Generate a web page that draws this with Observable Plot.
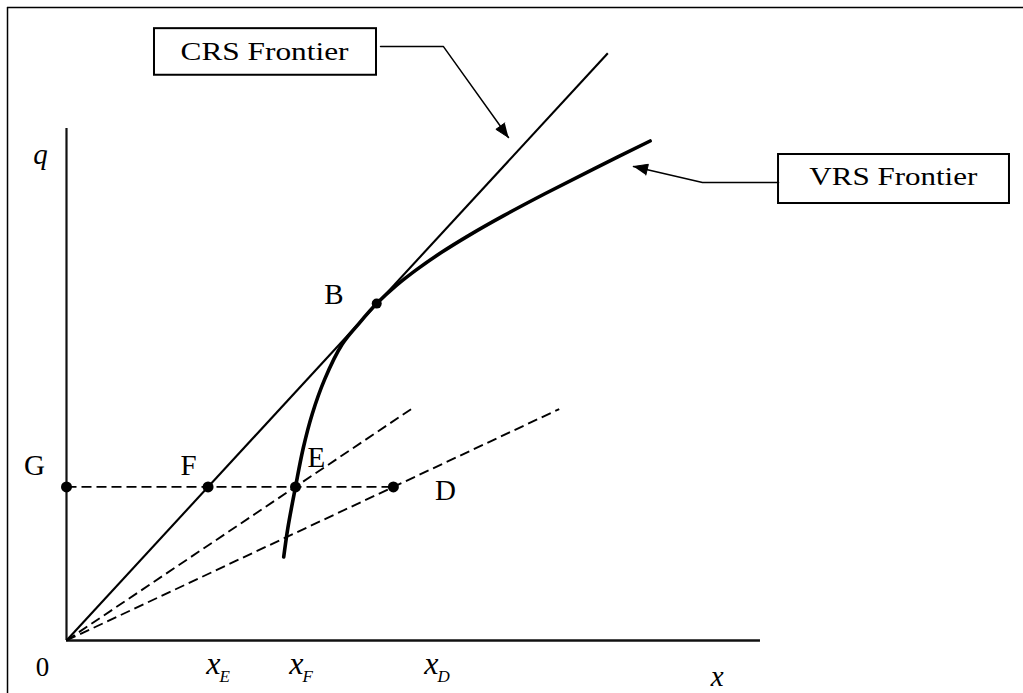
<!DOCTYPE html>
<html><head><meta charset="utf-8">
<script src="https://cdn.jsdelivr.net/npm/d3@7"></script>
<script src="https://cdn.jsdelivr.net/npm/@observablehq/plot@0.6"></script>
<style>html,body{margin:0;padding:0;background:#fff;} #chart svg{display:block}</style>
</head><body><div id="chart"></div>
<script>
// ---------- data (in diagram units: origin = 0, axis ends = 10) ----------
const axisEndX = 10, axisEndQ = 10;
const crsX = [0, 7.8];
const crsQ = [0, 11.47];
const vrsX = [3.13, 3.19, 3.30, 3.41, 3.54, 3.72, 3.97, 4.22, 4.47, 4.75, 5.05, 5.40, 5.80, 6.30, 6.90, 7.60, 8.41];
const vrsQ = [1.63, 2.20, 3.00, 3.75, 4.42, 5.10, 5.78, 6.20, 6.58, 6.93, 7.248, 7.577, 7.913, 8.298, 8.73, 9.213, 9.756];
const rayEndX = [5.0, 7.1];
const rayEndQ = [4.55, 4.52];
const pointNames = ["G", "F", "E", "D", "B"];
const pointX = [0, 2.04, 3.30, 4.71, 4.47];
const pointQ = [3.0, 3.0, 3.0, 3.0, 6.58];
const pointLabelX = [-0.461, 1.758, 3.60, 5.461, 3.852];
const pointLabelQ = [3.223, 3.223, 3.385, 2.754, 6.582];
const tickNames = ["E", "F", "D"];
const tickX = [2.205, 3.40, 5.346];
const tickQ = -0.645;
const originLabel = {x: -0.346, y: -0.684, text: "0"};
const axisTitles = [{x: -0.375, y: 9.316, text: "q"}, {x: 9.375, y: -0.879, text: "x"}];
const boxNames = ["CRS Frontier", "VRS Frontier"];
const boxX1 = [1.268, 10.26], boxX2 = [4.467, 13.588];
const boxQ1 = [11.04, 8.535], boxQ2 = [11.95, 9.492];
const boxTextX = [2.853, 11.914], boxTextQ = [11.342, 8.90];
const crsLeader = [[4.525, 11.60], [5.432, 11.60], [6.369, 9.824]];
const vrsLeader = [[10.26, 8.945], [9.164, 8.945], [8.170, 9.258]];
const frameX = -0.85, frameQ = 12.363;

// ---------- geometry ----------
const W = 1023, H = 693;
const XD = [-0.951, 13.79], YD = [-1.035, 12.5];
const sx = d3.scaleLinear().domain(XD).range([0, W]);
const sy = d3.scaleLinear().domain(YD).range([H, 0]);

const vrs = vrsX.map((x, i) => ({x, y: vrsQ[i]}));
const points = pointNames.map((name, i) => ({name, x: pointX[i], y: pointQ[i], lx: pointLabelX[i], ly: pointLabelQ[i]}));
const rays = rayEndX.map((x, i) => ({x1: 0, y1: 0, x2: x, y2: rayEndQ[i]}));
const G = points[0], Dp = points[3];
const ticks = tickNames.map((name, i) => ({name, x: tickX[i], y: tickQ}));
const boxes = boxNames.map((name, i) => ({name, x1: boxX1[i], x2: boxX2[i], y1: boxQ1[i], y2: boxQ2[i], tx: boxTextX[i], ty: boxTextQ[i]}));
const leaders = [["CRS", crsLeader], ["VRS", vrsLeader]];
const leaderPts = leaders.flatMap(([name, pts]) => pts.map(([x, y]) => ({name, x, y})));
// arrow heads as filled triangles, built from the last leader segment
const heads = leaders.flatMap(([name, pts]) => {
  const [p0, p1] = pts.slice(-2);
  const tx = sx(p1[0]), ty = sy(p1[1]);
  const dx = tx - sx(p0[0]), dy = ty - sy(p0[1]);
  const len = Math.hypot(dx, dy), ux = dx / len, uy = dy / len;
  const L = 14, w = 5.5;
  const bx = tx - L * ux, by = ty - L * uy;
  const v = [[tx, ty], [bx - w * uy, by + w * ux], [bx + w * uy, by - w * ux]];
  return v.map(([px, py]) => ({name, x: sx.invert(px), y: sy.invert(py)}));
});

const serif = '"Liberation Serif", "Times New Roman", Times, serif';

const chart = Plot.plot({
  width: W, height: H,
  margin: 0, marginTop: 0, marginRight: 0, marginBottom: 0, marginLeft: 0,
  x: {domain: XD, axis: null},
  y: {domain: YD, axis: null},
  style: {background: "white"},
  marks: [
    // outer frame
    Plot.ruleX([frameX], {y1: YD[0], y2: frameQ, stroke: "#000", strokeWidth: 1.5}),
    Plot.ruleY([frameQ], {x1: frameX, x2: XD[1], stroke: "#000", strokeWidth: 1.5}),
    // axes
    Plot.ruleX([0], {y1: 0, y2: axisEndQ, stroke: "#111", strokeWidth: 2.2}),
    Plot.ruleY([0], {x1: 0, x2: axisEndX, stroke: "#111", strokeWidth: 2.5}),
    // dashed rays & horizontal
    Plot.link(rays, {x1: "x1", y1: "y1", x2: "x2", y2: "y2", stroke: "#000", strokeWidth: 1.9, strokeDasharray: "10,5"}),
    Plot.link([{x1: G.x, y1: G.y, x2: Dp.x, y2: Dp.y}], {x1: "x1", y1: "y1", x2: "x2", y2: "y2", stroke: "#000", strokeWidth: 1.9, strokeDasharray: "10,5"}),
    // CRS frontier
    Plot.link([{x1: crsX[0], y1: crsQ[0], x2: crsX[1], y2: crsQ[1]}], {x1: "x1", y1: "y1", x2: "x2", y2: "y2", stroke: "#000", strokeWidth: 2.1}),
    // VRS frontier
    Plot.line(vrs, {x: "x", y: "y", curve: "catmull-rom", stroke: "#000", strokeWidth: 3.6}),
    // points
    Plot.dot(points.filter(d => d.name !== "B"), {x: "x", y: "y", r: 5.5, fill: "#000", stroke: "none"}),
    Plot.dot(points.filter(d => d.name === "B"), {x: "x", y: "y", r: 5, fill: "#000", stroke: "none"}),
    Plot.text(points, {x: "lx", y: "ly", text: "name", fontFamily: serif, fontSize: 29, lineAnchor: "bottom", fill: "#000"}),
    // origin, axis titles
    Plot.text([originLabel], {x: "x", y: "y", text: "text", fontFamily: serif, fontSize: 27, lineAnchor: "bottom", fill: "#000"}),
    Plot.text(axisTitles, {x: "x", y: "y", text: "text", fontFamily: serif, fontStyle: "italic", fontSize: 29, lineAnchor: "bottom", fill: "#000"}),
    // x tick labels with subscripts
    Plot.text(ticks, {x: "x", y: "y", text: () => "x", fontFamily: serif, fontStyle: "italic", fontSize: 32, textAnchor: "end", lineAnchor: "bottom", dx: 1, fill: "#000"}),
    Plot.text(ticks, {x: "x", y: "y", text: "name", fontFamily: serif, fontStyle: "italic", fontSize: 17, textAnchor: "start", lineAnchor: "bottom", dy: 8, fill: "#000"}),
    // label boxes
    Plot.rect(boxes, {x1: "x1", x2: "x2", y1: "y1", y2: "y2", fill: "white", stroke: "#000", strokeWidth: 2}),
    Plot.text(boxes, {x: "tx", y: "ty", text: "name", fontFamily: serif, fontSize: 25, lineAnchor: "bottom", fill: "#000"}),
    // leaders + arrow heads
    Plot.line(leaderPts, {x: "x", y: "y", z: "name", stroke: "#000", strokeWidth: 1.5}),
    Plot.line(heads, {x: "x", y: "y", z: "name", fill: "#000", stroke: "#000", strokeWidth: 1})
  ]
});

d3.select(chart).selectAll("text")
  .filter(function () { return /Frontier/.test(this.textContent); })
  .attr("textLength", 168).attr("lengthAdjust", "spacingAndGlyphs");

document.getElementById("chart").appendChild(chart);
</script>
</body></html>
